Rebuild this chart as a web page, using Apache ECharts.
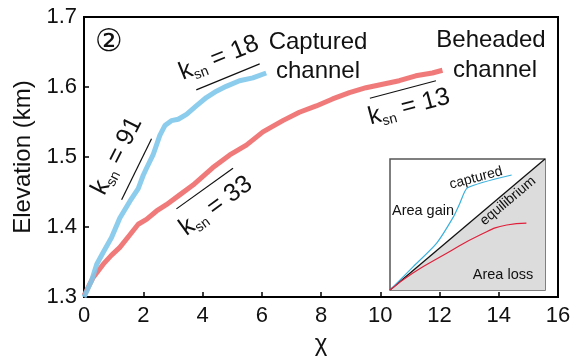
<!DOCTYPE html>
<html>
<head>
<meta charset="utf-8">
<script src="https://cdn.jsdelivr.net/npm/echarts@6/dist/echarts.min.js"></script>
<style>html,body{margin:0;padding:0;background:#fff;}#c{width:588px;height:361px;}</style>
</head>
<body>
<div id="c"></div>
<script>
// ---- data ----
var capturedChi  = [0.0, 0.26, 0.43, 0.65, 0.93, 1.21, 1.55, 1.83, 2.00, 2.11, 2.33, 2.56, 2.73, 2.95, 3.18, 3.46, 3.79, 4.13, 4.47, 4.80, 5.25, 5.70, 6.15];
var capturedElev = [1.300, 1.324, 1.347, 1.364, 1.385, 1.413, 1.437, 1.455, 1.474, 1.484, 1.503, 1.531, 1.545, 1.552, 1.554, 1.561, 1.573, 1.585, 1.594, 1.601, 1.609, 1.613, 1.620];
var beheadedChi  = [0.0, 0.31, 0.65, 0.93, 1.21, 1.55, 1.83, 2.11, 2.45, 2.78, 3.23, 3.68, 4.35, 4.92, 5.48, 6.04, 6.71, 7.27, 7.84, 8.39, 8.96, 9.52, 10.08, 10.64, 11.20, 11.76, 12.10];
var beheadedElev = [1.302, 1.328, 1.347, 1.360, 1.371, 1.389, 1.404, 1.411, 1.423, 1.432, 1.446, 1.460, 1.485, 1.503, 1.517, 1.536, 1.552, 1.564, 1.573, 1.583, 1.592, 1.599, 1.604, 1.609, 1.616, 1.620, 1.624];
// k_sn reference segments [chi, elev]
var ksn91 = [[1.27, 1.439], [2.28, 1.526]];
var ksn18 = [[3.79, 1.596], [5.93, 1.633]];
var ksn33 = [[3.12, 1.426], [5.03, 1.484]];
var ksn13 = [[9.65, 1.584], [11.88, 1.609]];
var ksnValues = ['91', '18', '33', '13'];
// inset schematic (normalised)
var insetEquilibrium = [[0, 0], [1, 1]];
var insetCapturedX = [0, 0.15, 0.30, 0.41, 0.45, 0.50, 0.785];
var insetCapturedY = [0, 0.178, 0.356, 0.56, 0.66, 0.78, 0.878];
var insetBeheadedX = [0, 0.148, 0.366, 0.58, 0.753, 0.88];
var insetBeheadedY = [0, 0.13, 0.28, 0.42, 0.496, 0.51];
var yTicks = [1.3, 1.4, 1.5, 1.6, 1.7];
var xTicks = [0, 2, 4, 6, 8, 10, 12, 14, 16];

function zip(a, b) { return a.map(function (v, i) { return [v, b[i]]; }); }

var FONT = '"Liberation Sans", Arial, sans-serif';
var chart = echarts.init(document.getElementById('c'), null, {renderer: 'canvas'});

function ksnText(val, x, y, rot) {
  return {
    type: 'text', x: x, y: y, rotation: rot * Math.PI / 180, z: 20,
    style: {
      text: '{k|k}{s|sn}{n| = ' + val + '}',
      align: 'center', verticalAlign: 'middle',
      rich: {
        k: {fontSize: 25, fontFamily: FONT, fill: '#111', lineHeight: 30},
        s: {fontSize: 14, fontFamily: FONT, fill: '#111', lineHeight: 30, padding: [15, 0, 0, 0]},
        n: {fontSize: 25, fontFamily: FONT, fill: '#111', lineHeight: 30}
      }
    }
  };
}
function plainText(t, x, y, size, rot, font) {
  return {
    type: 'text', x: x, y: y, rotation: (rot || 0) * Math.PI / 180, z: 20,
    style: {text: t, fontSize: size, fontFamily: font || FONT, fill: '#111', align: 'center', verticalAlign: 'middle'}
  };
}

var segStyle = {color: '#111', width: 1.2};
function segSeries(d) {
  return {type: 'line', xAxisIndex: 0, yAxisIndex: 0, data: d, symbol: 'none', lineStyle: segStyle, z: 4, silent: true};
}

var option = {
  animation: false,
  backgroundColor: '#fff',
  grid: [
    {left: 84, top: 17, right: 30, bottom: 61, show: true, borderColor: '#000', borderWidth: 2, backgroundColor: 'transparent'},
    {left: 390, top: 159, width: 155, height: 131, show: true, borderColor: '#555', borderWidth: 1.5, backgroundColor: '#fff', z: 10}
  ],
  xAxis: [
    {type: 'value', gridIndex: 0, min: 0, max: 16, interval: 2,
     name: 'χ', nameLocation: 'middle', nameGap: 31,
     nameTextStyle: {fontSize: 24, fontFamily: FONT, color: '#111'},
     axisLine: {lineStyle: {color: '#000', width: 2}},
     axisTick: {inside: true, length: 5, lineStyle: {color: '#000', width: 1.5}},
     axisLabel: {fontSize: 22, fontFamily: FONT, color: '#111', margin: 8},
     splitLine: {show: false}},
    {type: 'value', gridIndex: 1, min: 0, max: 1, show: false}
  ],
  yAxis: [
    {type: 'value', gridIndex: 0, min: 1.3, max: 1.7, interval: 0.1,
     name: 'Elevation (km)', nameLocation: 'middle', nameGap: 46,
     nameTextStyle: {fontSize: 24, fontFamily: FONT, color: '#111'},
     axisLine: {lineStyle: {color: '#000', width: 2}},
     axisTick: {inside: true, length: 5, lineStyle: {color: '#000', width: 1.5}},
     axisLabel: {fontSize: 22, fontFamily: FONT, color: '#111', margin: 7,
                 formatter: function (v) { return v.toFixed(1); }},
     splitLine: {show: false}},
    {type: 'value', gridIndex: 1, min: 0, max: 1, show: false}
  ],
  series: [
    {type: 'line', name: 'Beheaded channel', data: zip(beheadedChi, beheadedElev), symbol: 'none',
     lineStyle: {color: '#ee6c6c', width: 5, opacity: 0.9}, z: 3},
    {type: 'line', name: 'Captured channel', data: zip(capturedChi, capturedElev), symbol: 'none',
     lineStyle: {color: '#7fc6ea', width: 5, opacity: 0.9}, z: 3},
    segSeries(ksn91), segSeries(ksn18), segSeries(ksn33), segSeries(ksn13),
    {type: 'line', xAxisIndex: 1, yAxisIndex: 1, data: insetEquilibrium, symbol: 'none',
     lineStyle: {color: '#111', width: 1.3}, areaStyle: {color: '#dcdcdc', opacity: 1}, z: 11},
    {type: 'line', xAxisIndex: 1, yAxisIndex: 1, data: zip(insetCapturedX, insetCapturedY), symbol: 'none', smooth: 0.2,
     lineStyle: {color: '#3ab0dc', width: 1.2}, z: 12},
    {type: 'line', xAxisIndex: 1, yAxisIndex: 1, data: zip(insetBeheadedX, insetBeheadedY), symbol: 'none', smooth: true,
     lineStyle: {color: '#e0203a', width: 1.2}, z: 12}
  ],
  graphic: [
    plainText('②', 109, 43, 31, 0, '"DejaVu Sans", "Noto Sans CJK SC", sans-serif'),
    plainText('Captured', 318, 42, 24),
    plainText('channel', 318, 71, 24),
    plainText('Beheaded', 491, 40, 24),
    plainText('channel', 495, 70, 24),
    ksnText(ksnValues[0], 117, 156, 63),
    ksnText(ksnValues[1], 219, 58, 22),
    ksnText(ksnValues[2], 216, 206, 36),
    ksnText(ksnValues[3], 409, 107, 15),
    plainText('captured', 476, 178, 14, 15),
    plainText('Area gain', 423, 211, 14.5),
    plainText('equilibrium', 508, 201, 14, 40),
    plainText('Area loss', 503, 275, 14.5)
  ]
};
chart.setOption(option);
</script>
</body>
</html>
